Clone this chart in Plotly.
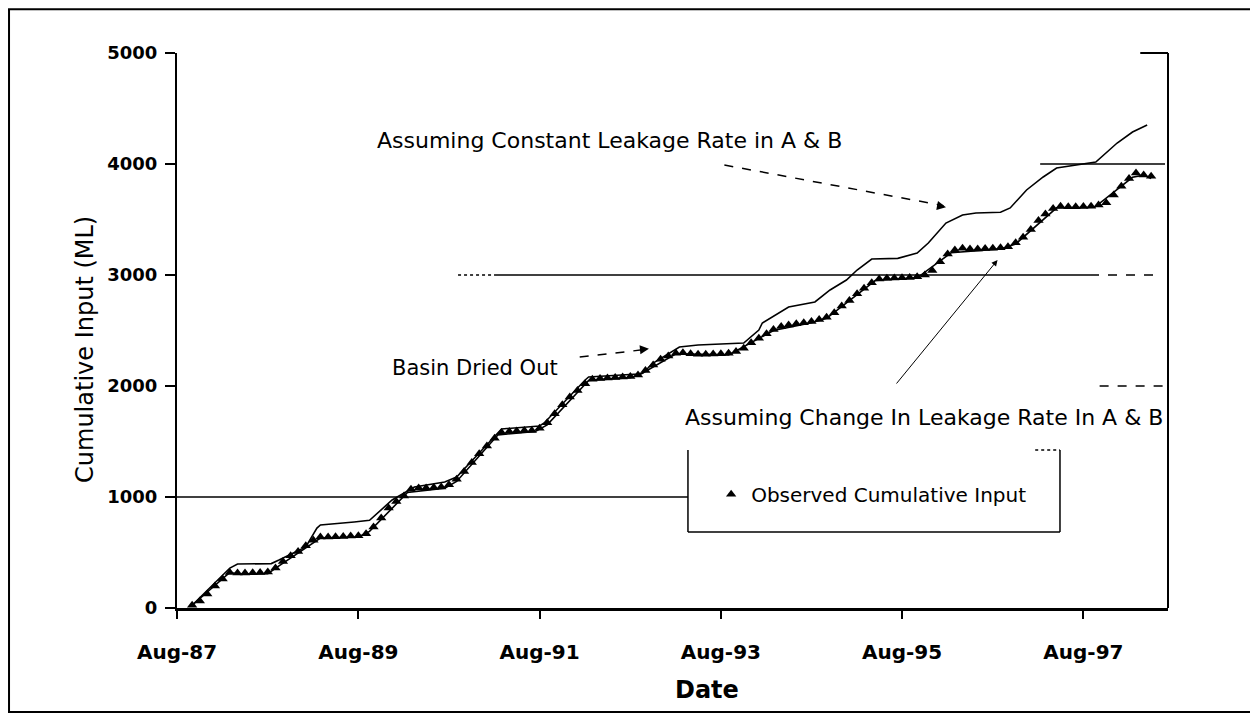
import plotly.graph_objects as go
import pandas as pd

# ---------------- data ----------------
obs_values = [
    25, 63, 126,
    198, 261, 320, 315, 315, 318, 320, 325, 360, 420, 470, 510,
    560, 610, 640, 640, 642, 645, 648, 650, 670, 730, 810, 900,
    960, 1010, 1070, 1080, 1082, 1085, 1090, 1110, 1160, 1230, 1310, 1390,
    1460, 1530, 1580, 1590, 1595, 1598, 1600, 1620, 1670, 1750, 1830, 1900,
    1960, 2020, 2060, 2068, 2072, 2076, 2080, 2085, 2100, 2140, 2190, 2240,
    2270, 2295, 2300, 2290, 2285, 2285, 2288, 2290, 2295, 2310, 2340, 2390,
    2430, 2470, 2510, 2535, 2550, 2560, 2570, 2580, 2600, 2620, 2660, 2720,
    2770, 2830, 2880, 2930, 2965, 2970, 2972, 2975, 2978, 2985, 3000, 3040,
    3120, 3190, 3225, 3240, 3235, 3235, 3238, 3240, 3245, 3255, 3290, 3340,
    3410, 3490, 3550, 3600, 3620, 3615, 3615, 3618, 3620, 3630, 3650, 3720,
    3800, 3870, 3920, 3900, 3890,
]
obs_dates = pd.date_range("1987-10-01", periods=len(obs_values), freq="MS")

const_dates = [
    "1987-10-01", "1988-03-01", "1988-04-01", "1988-08-15", "1988-09-15", "1989-01-01",
    "1989-02-15", "1989-03-01", "1989-07-15", "1989-09-15", "1989-12-15", "1990-01-20",
    "1990-03-15", "1990-07-15", "1990-09-01", "1990-12-01", "1991-02-15", "1991-03-01",
    "1991-08-01", "1991-08-20", "1992-02-01", "1992-02-15", "1992-09-01", "1992-09-20",
    "1992-11-01", "1993-02-15", "1993-05-01", "1993-11-01", "1994-01-01", "1994-01-15",
    "1994-05-01", "1994-08-15", "1994-10-15", "1994-12-20", "1995-02-01", "1995-03-25",
    "1995-04-01", "1995-07-15", "1995-10-01", "1995-11-15", "1996-01-25", "1996-04-01",
    "1996-05-25", "1996-09-01", "1996-10-10", "1996-12-15", "1997-02-20", "1997-04-15",
    "1997-07-01", "1997-09-20", "1997-12-15", "1998-02-15", "1998-04-15",
]
const_values = [
    25, 360, 396, 400, 432, 550,
    720, 748, 775, 790, 973, 1018,
    1090, 1135, 1180, 1396, 1577, 1613,
    1640, 1667, 2054, 2081, 2108, 2117,
    2207, 2351, 2369, 2387, 2504, 2568,
    2712, 2757, 2865, 2955, 3045, 3135,
    3144, 3150, 3198, 3288, 3468, 3541,
    3559, 3565, 3604, 3766, 3883, 3964,
    3991, 4018, 4189, 4288, 4351,
]

change_dates = [
    "1987-10-01", "1988-03-01", "1988-04-01", "1988-08-01", "1988-09-15", "1989-03-01",
    "1989-08-01", "1989-09-15", "1990-02-15", "1990-07-15", "1990-09-01", "1991-02-15",
    "1991-07-15", "1991-09-01", "1992-02-15", "1992-08-01", "1992-09-15", "1993-02-01",
    "1993-09-01", "1994-03-01", "1994-08-01", "1994-10-01", "1995-04-15", "1995-10-01",
    "1996-02-15", "1996-09-01", "1996-11-01", "1997-04-15", "1997-09-15", "1998-02-15",
    "1998-04-01", "1998-05-01",
]
change_values = [
    25, 320, 305, 310, 380, 630,
    640, 690, 1040, 1080, 1140, 1560,
    1590, 1650, 2050, 2075, 2110, 2290,
    2280, 2500, 2570, 2610, 2950, 2975,
    3200, 3235, 3280, 3605, 3610, 3880,
    3900, 3870,
]

x_tick_dates = ["1987-08-01", "1989-08-01", "1991-08-01", "1993-08-01", "1995-08-01", "1997-08-01"]
x_tick_labels = ["Aug-87", "Aug-89", "Aug-91", "Aug-93", "Aug-95", "Aug-97"]
y_ticks = [0, 1000, 2000, 3000, 4000, 5000]

# ---------------- figure ----------------
fig = go.Figure()
fig.add_trace(go.Scatter(x=const_dates, y=const_values, mode="lines",
                         line=dict(color="black", width=1.6), showlegend=False,
                         name="Assuming Constant Leakage Rate in A & B"))
fig.add_trace(go.Scatter(x=change_dates, y=change_values, mode="lines",
                         line=dict(color="black", width=1.6), showlegend=False,
                         name="Assuming Change In Leakage Rate In A & B"))
fig.add_trace(go.Scatter(x=obs_dates, y=obs_values, mode="markers",
                         marker=dict(symbol="triangle-up", size=9, color="black"),
                         name="Observed Cumulative Input"))

FONT = "DejaVu Sans"
black = "black"

fig.update_layout(
    width=1250, height=710,
    margin=dict(l=169, r=90, t=45, b=110),
    paper_bgcolor="white", plot_bgcolor="white",
    font=dict(family=FONT, color=black),
    showlegend=True,
    legend=dict(x=0.539, y=0.205, xanchor="left", yanchor="middle",
                bgcolor="rgba(0,0,0,0)", borderwidth=0,
                font=dict(family=FONT, size=20, color=black)),
)
fig.update_xaxes(
    type="date", range=["1987-08-01", "1998-07-08"],
    tickvals=x_tick_dates, ticktext=x_tick_labels,
    showgrid=False, zeroline=False,
    showline=True, linecolor=black, linewidth=3,
    ticks="outside", ticklen=8, tickwidth=2, tickcolor=black,
    tickfont=dict(family="DejaVu Sans", size=20, color=black, weight="bold"),
    ticklabelstandoff=16,
)
fig.update_yaxes(
    range=[0, 5000], tickvals=y_ticks, ticktext=[str(v) for v in y_ticks],
    showgrid=False, zeroline=False,
    showline=True, linecolor=black, linewidth=2,
    ticks="outside", ticklen=10, tickwidth=2, tickcolor=black,
    tickfont=dict(family="DejaVu Sans", size=18, color=black, weight="bold"),
    ticklabelstandoff=4,
)

shapes = []
# outer frame
shapes.append(dict(type="rect", xref="paper", yref="paper", x0=-0.1695, x1=1.0838,
                   y0=-0.1874, y1=1.079, line=dict(color=black, width=2)))
# right border of plot area and short top piece
shapes.append(dict(type="line", xref="paper", yref="paper", x0=1, x1=1, y0=0, y1=1,
                   line=dict(color=black, width=2)))
shapes.append(dict(type="line", xref="paper", yref="paper", x0=0.972, x1=1, y0=1, y1=1,
                   line=dict(color=black, width=2)))
# partial grid lines
shapes.append(dict(type="line", xref="paper", yref="y", x0=0, x1=0.5156, y0=1000, y1=1000,
                   line=dict(color=black, width=1.5)))
shapes.append(dict(type="line", xref="paper", yref="y", x0=0.2836, x1=0.3209, y0=3000, y1=3000,
                   line=dict(color=black, width=1.5, dash="dot")))
shapes.append(dict(type="line", xref="paper", yref="y", x0=0.3209, x1=0.9213, y0=3000, y1=3000,
                   line=dict(color=black, width=1.5)))
shapes.append(dict(type="line", xref="paper", yref="y", x0=0.9213, x1=0.99, y0=3000, y1=3000,
                   line=dict(color=black, width=1.5, dash="dash")))
shapes.append(dict(type="line", xref="paper", yref="y", x0=0.871, x1=0.997, y0=4000, y1=4000,
                   line=dict(color=black, width=1.5)))
shapes.append(dict(type="line", xref="paper", yref="y", x0=0.931, x1=0.997, y0=2000, y1=2000,
                   line=dict(color=black, width=1.5, dash="dash")))
# legend box (top edge mostly missing)
shapes.append(dict(type="line", xref="paper", yref="paper", x0=0.5156, x1=0.5156, y0=0.137, y1=0.2847,
                   line=dict(color=black, width=1.5)))
shapes.append(dict(type="line", xref="paper", yref="paper", x0=0.5156, x1=0.891, y0=0.137, y1=0.137,
                   line=dict(color=black, width=1.5)))
shapes.append(dict(type="line", xref="paper", yref="paper", x0=0.891, x1=0.891, y0=0.137, y1=0.2847,
                   line=dict(color=black, width=1.5)))
shapes.append(dict(type="line", xref="paper", yref="paper", x0=0.866, x1=0.891, y0=0.2847, y1=0.2847,
                   line=dict(color=black, width=1.5, dash="dot")))
# dashed arrow shafts
shapes.append(dict(type="line", xref="x", yref="y", x0="1993-08-15", y0=3991, x1="1996-01-15", y1=3625,
                   line=dict(color=black, width=1.5, dash="dash")))
shapes.append(dict(type="line", xref="x", yref="y", x0="1992-01-10", y0=2261, x1="1992-10-05", y1=2330,
                   line=dict(color=black, width=1.5, dash="dash")))
fig.update_layout(shapes=shapes)

ann = []
# arrow heads for dashed arrows
ann.append(dict(x="1996-01-25", y=3610, xref="x", yref="y", text="", showarrow=True,
                ax=-10, ay=-2, arrowhead=2, arrowsize=1.2, arrowwidth=1.5, arrowcolor=black))
ann.append(dict(x="1992-10-15", y=2335, xref="x", yref="y", text="", showarrow=True,
                ax=-10, ay=1, arrowhead=2, arrowsize=1.2, arrowwidth=1.5, arrowcolor=black))
# thin arrow for the change-rate annotation
ann.append(dict(x="1996-08-20", y=3135, xref="x", yref="y", axref="x", ayref="y",
                ax="1995-07-05", ay=2009, text="", showarrow=True,
                arrowhead=2, arrowsize=1.2, arrowwidth=1, arrowcolor=black))
# texts
ann.append(dict(x=0.1998, y=0.843, xref="paper", yref="paper", xanchor="left", yanchor="middle",
                text="Assuming Constant Leakage Rate in A & B", showarrow=False,
                font=dict(family=FONT, size=22, color=black)))
ann.append(dict(x=0.215, y=0.432, xref="paper", yref="paper", xanchor="left", yanchor="middle",
                text="Basin Dried Out", showarrow=False,
                font=dict(family=FONT, size=21, color=black)))
ann.append(dict(x=0.5105, y=0.343, xref="paper", yref="paper", xanchor="left", yanchor="middle",
                text="Assuming Change In Leakage Rate In A & B", showarrow=False,
                font=dict(family=FONT, size=22, color=black)))
# axis titles
ann.append(dict(x=-0.0928, y=0.465, xref="paper", yref="paper", xanchor="center", yanchor="middle",
                text="Cumulative Input (ML)", textangle=-90, showarrow=False,
                font=dict(family=FONT, size=24, color=black)))
ann.append(dict(x=0.535, y=-0.148, xref="paper", yref="paper", xanchor="center", yanchor="middle",
                text="Date", showarrow=False,
                font=dict(family=FONT, size=24, color=black, weight="bold")))
fig.update_layout(annotations=ann)

fig.write_html("out.html")
